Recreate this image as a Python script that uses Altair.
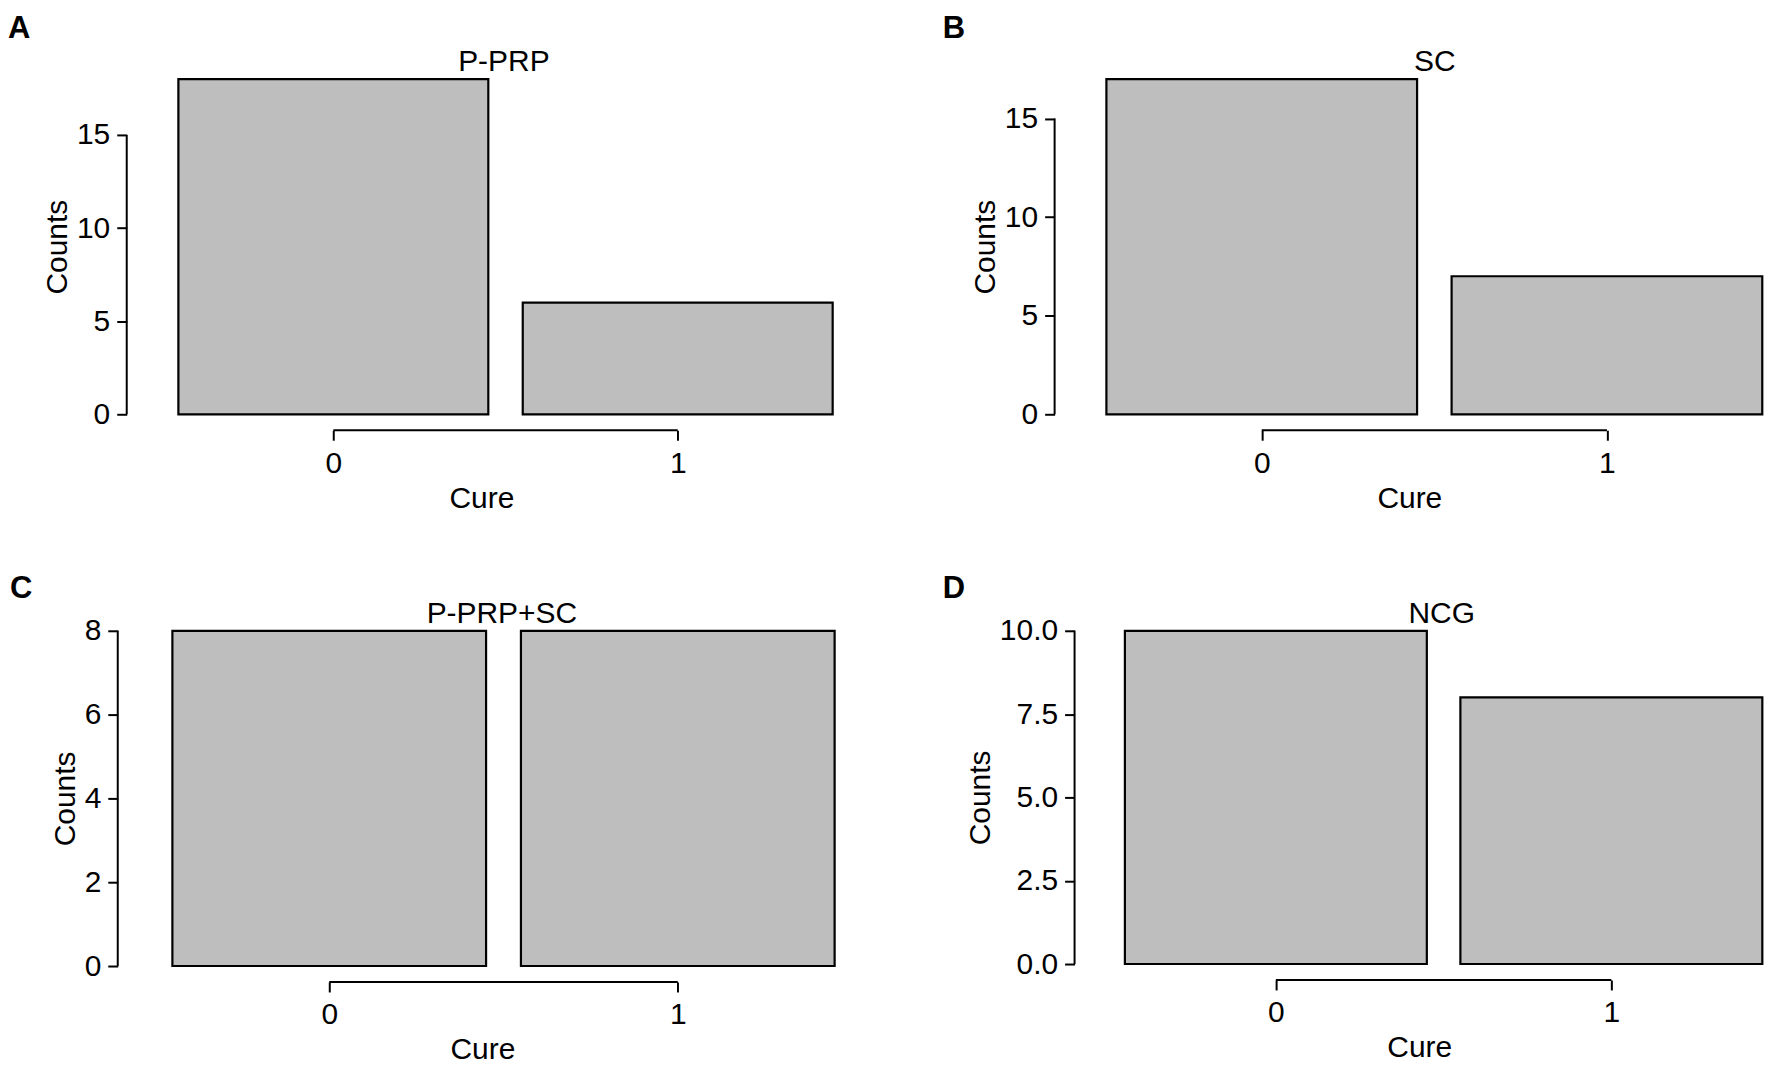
import altair as alt
import pandas as pd

# ---- data ----
cure = [0, 1]
letters = ["A", "B", "C", "D"]
titles = ["P-PRP", "SC", "P-PRP+SC", "NCG"]
counts_A = [18, 6]
counts_B = [17, 7]
counts_C = [8, 8]
counts_D = [10, 8]
yticks_A = [0, 5, 10, 15]
yticks_B = [0, 5, 10, 15]
yticks_C = [0, 2, 4, 6, 8]
yticks_D = [0, 2.5, 5, 7.5, 10]
ymax_A, ymax_B, ymax_C, ymax_D = 18, 17, 8, 10

FONT = "Liberation Sans"
FS = 30
FS_LETTER = 31
FILL = "#bebebe"


def panel(letter, title, counts, yticks, ymax, fmt, width, height, xmin, xmax,
          yoff, letter_dx, letter_dy, title_x):
    xs = alt.Scale(domain=[xmin, xmax], nice=False, zero=False)
    ys = alt.Scale(domain=[0, ymax], nice=False, zero=True)
    xax = alt.Axis(values=cure, title="Cure", domain=False, grid=False,
                   tickSize=10, offset=16, labelPadding=8,
                   titlePadding=5, labelFlush=False, format="d")
    yax = alt.Axis(values=yticks, title="Counts", domain=False, grid=False,
                   tickSize=10, offset=yoff, labelPadding=7, titlePadding=4,
                   labelFlush=False, format=fmt)
    df = pd.DataFrame({"Cure": cure, "Counts": counts})

    bars = alt.Chart(df).transform_calculate(
        x0="datum.Cure - 0.45", x1="datum.Cure + 0.45", base="0"
    ).mark_rect(fill=FILL, stroke="black", strokeWidth=2.2).encode(
        x=alt.X("x0:Q", scale=xs, axis=xax, title="Cure"),
        x2="x1:Q",
        y=alt.Y("Counts:Q", scale=ys, axis=yax, title="Counts"),
        y2="base:Q",
    )

    yaxis_df = pd.DataFrame({"y0": [yticks[0]], "y1": [yticks[-1]]})
    yline = alt.Chart(yaxis_df).mark_rule(color="black", strokeWidth=2).encode(
        y=alt.Y("y0:Q", scale=ys, axis=yax, title="Counts"),
        y2="y1:Q",
        x=alt.value(-yoff),
    )

    xaxis_df = pd.DataFrame({"a": [cure[0]], "b": [cure[-1]]})
    xline = alt.Chart(xaxis_df).mark_rule(color="black", strokeWidth=2).encode(
        x=alt.X("a:Q", scale=xs, axis=xax, title="Cure"),
        x2="b:Q",
        y=alt.value(height + 16),
    )

    ttl = alt.Chart(pd.DataFrame({"t": [title]})).mark_text(
        font=FONT, fontSize=FS, align="center", baseline="alphabetic", color="black"
    ).encode(text="t:N", x=alt.value(title_x), y=alt.value(-8))

    let = alt.Chart(pd.DataFrame({"t": [letter]})).mark_text(
        font=FONT, fontSize=FS_LETTER, fontWeight="bold", align="left", baseline="top",
        color="black"
    ).encode(text="t:N", x=alt.value(letter_dx), y=alt.value(letter_dy))

    return alt.layer(bars, yline, xline, ttl, let).properties(width=width, height=height)


pA = panel(letters[0], titles[0], counts_A, yticks_A, ymax_A, "d",
           711, 336, -0.6, 1.46, 0, -119, -65, 378)
pB = panel(letters[1], titles[1], counts_B, yticks_B, ymax_B, "d",
           711, 336, -0.6, 1.455, 0, -112, -65, 381)
pC = panel(letters[2], titles[2], counts_C, yticks_C, ymax_C, "d",
           713, 336, -0.581, 1.46, 9, -117, -57, 376)
pD = panel(letters[3], titles[3], counts_D, yticks_D, ymax_D, ".1f",
           691, 334, -0.6, 1.455, 0, -132, -57, 368)

row1 = alt.hconcat(pA, pB, spacing=107)
row2 = alt.hconcat(pC, pD, spacing=105)

chart = alt.vconcat(row1, row2, spacing=60).properties(
    padding={"left": 0, "top": 4, "right": 0, "bottom": 0}
).configure_view(stroke=None).configure_axis(
    labelFont=FONT, titleFont=FONT, labelFontSize=FS, titleFontSize=FS,
    labelColor="black", titleColor="black", tickColor="black", tickWidth=2,
    titleFontWeight="normal",
)

chart.save("out.html", embed_options={"renderer": "svg", "actions": False})
